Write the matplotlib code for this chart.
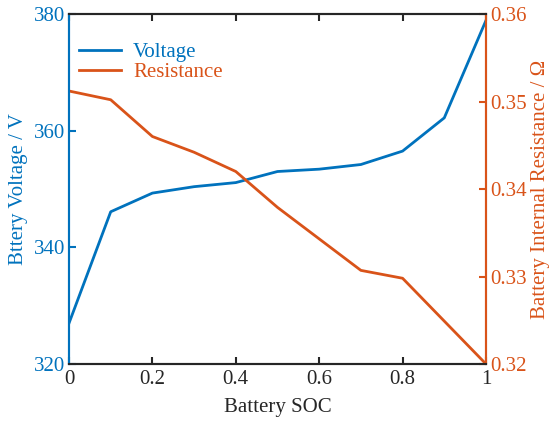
import matplotlib.pyplot as plt

plt.rcParams['font.family'] = ['Liberation Serif', 'DejaVu Serif']

soc = [0, 0.1, 0.2, 0.3, 0.4, 0.5, 0.6, 0.7, 0.8, 0.9, 1.0]
voltage = [327.0, 346.1, 349.3, 350.4, 351.1, 353.0, 353.4, 354.2, 356.5, 362.2, 378.9]
resistance = [0.3512, 0.3502, 0.3460, 0.3442, 0.3420, 0.3379, 0.3343, 0.3307, 0.3298, 0.3249, 0.3200]

blue = '#0072BD'
orange = '#D95319'
dark = '#262626'
fs = 15

fig = plt.figure(figsize=(5.53, 4.30), dpi=100)
ax1 = fig.add_axes([0.1248, 0.1535, 0.754, 0.8139])
ax2 = ax1.twinx()

l1, = ax1.plot(soc, voltage, color=blue, lw=2, label='Voltage')
l2, = ax2.plot(soc, resistance, color=orange, lw=2, label='Resistance')

ax1.set_xlim(0, 1)
ax1.set_ylim(320, 380)
ax2.set_ylim(0.32, 0.36)
ax1.set_xticks([0, 0.2, 0.4, 0.6, 0.8, 1])
ax1.set_xticklabels(['0', '0.2', '0.4', '0.6', '0.8', '1'])
ax1.set_yticks([320, 340, 360, 380])
ax2.set_yticks([0.32, 0.33, 0.34, 0.35, 0.36])

for ax in (ax1, ax2):
    for s in ax.spines.values():
        s.set_linewidth(1.5)
    ax.spines['top'].set_color(dark)
    ax.spines['bottom'].set_color(dark)
    ax.spines['left'].set_color(blue)
    ax.spines['right'].set_color(orange)

ax1.tick_params(axis='x', direction='in', length=5, width=1.5, colors=dark,
                labelsize=fs, top=True, pad=4)
ax1.tick_params(axis='y', direction='in', length=5, width=1.5, colors=blue,
                labelsize=fs, pad=3)
ax2.tick_params(axis='y', direction='in', length=5, width=1.5, colors=orange,
                labelsize=fs, pad=3)

ax1.set_xlabel('Battery SOC', fontsize=fs, color=dark, labelpad=7)
ax1.set_ylabel('Bttery Voltage / V', fontsize=fs, color=blue, labelpad=4)
ax2.set_ylabel('Battery Internal Resistance / Ω', fontsize=fs,
               color=orange, labelpad=3)

leg = ax1.legend(handles=[l1, l2], loc='upper left', frameon=False, fontsize=fs,
                 handlelength=2.0, handletextpad=0.6, labelspacing=0.0,
                 borderpad=0, borderaxespad=0, bbox_to_anchor=(0.024, 0.918))
for text, c in zip(leg.get_texts(), [blue, orange]):
    text.set_color(c)

fig.savefig('out.png', dpi=100)
